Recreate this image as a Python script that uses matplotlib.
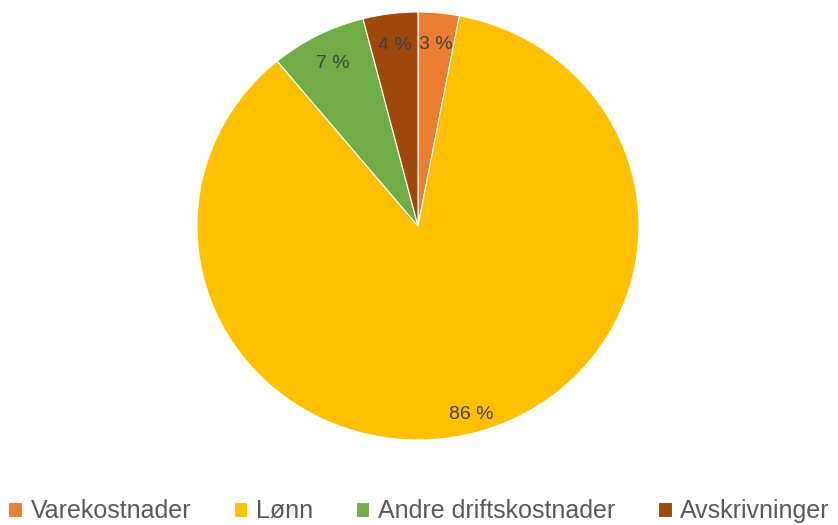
import matplotlib.pyplot as plt

labels = ["Varekostnader", "Lønn", "Andre driftskostnader", "Avskrivninger"]
shares = [3, 86, 7, 4]
colors = ["#ED7D31", "#FFC000", "#70AD47", "#9E480E"]

plt.rcParams["font.family"] = ["Liberation Sans", "DejaVu Sans"]

fig = plt.figure(figsize=(8.38, 5.25), dpi=100)
ax = fig.add_axes([197 / 838, 1 - 440 / 525, 442 / 838, 428 / 525])

wedges, texts, autotexts = ax.pie(
    shares,
    colors=colors,
    startangle=90,
    counterclock=False,
    autopct=lambda p: f"{p:.0f} %",
    pctdistance=0.85,
    wedgeprops=dict(edgecolor="white", linewidth=0.8),
    textprops=dict(color="#404040", fontsize=14),
    frame=False,
)
ax.set_xlim(-1, 1)
ax.set_ylim(-1, 1)
ax.set_aspect("auto")
autotexts[1].set_position((0.24, -0.88))

fig.legend(
    wedges, labels,
    loc="center", bbox_to_anchor=(0.5, 1 - 511 / 525),
    ncol=4, frameon=False, fontsize=18,
    handlelength=0.55, handleheight=0.55, handletextpad=0.35,
    columnspacing=1.7, labelcolor="#595959",
)

fig.savefig("out.png", dpi=100, facecolor="white")
